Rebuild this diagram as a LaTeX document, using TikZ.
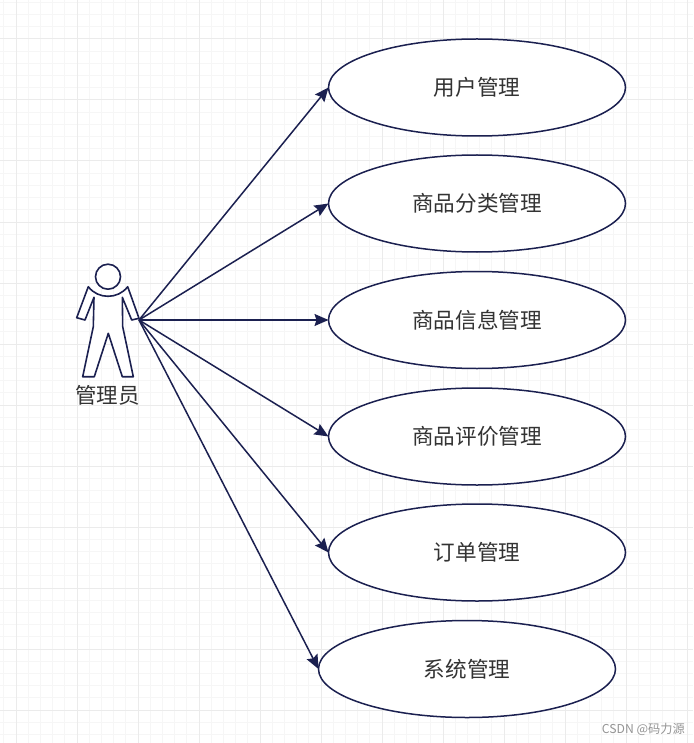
\documentclass[tikz,border=0pt]{standalone}
\usepackage{fontspec}
\setmainfont{Noto Sans CJK SC}
\usetikzlibrary{arrows.meta,shapes.geometric}
\definecolor{navy}{HTML}{1B2050}
\definecolor{txt}{HTML}{333333}
\definecolor{gridmaj}{HTML}{EBEBEB}
\definecolor{gridmin}{HTML}{F6F6F6}
\tikzset{
  usecase/.style={draw=navy,line width=1.5pt,fill=white,ellipse,minimum width=297pt,minimum height=97pt,inner sep=0pt,outer sep=0pt,text=txt,font=\fontsize{21.6}{26}\selectfont},
  link/.style={draw=navy,line width=1.5pt,-{Stealth[length=14pt,width=12pt,inset=2pt]}},
  actorline/.style={draw=navy,line width=1.6pt,line join=round,fill=white},
  caption/.style={text=txt,font=\fontsize{21.5}{26}\selectfont,inner sep=0pt},
  mark text/.style={text=black!42,font=\fontsize{12.2}{15}\selectfont,inner sep=0pt,anchor=east},
}
\begin{document}
\begin{tikzpicture}[x=1pt,y=-1pt]
\useasboundingbox (0,0) rectangle (693,743);
\fill[white] (0,0) rectangle (693,743);
% grid
\foreach \i in {0,...,56} \draw[gridmin,line width=1pt] (3.8+12.2*\i,0) -- (3.8+12.2*\i,743);
\foreach \i in {0,...,60} \draw[gridmin,line width=1pt] (0,2.4+12.2*\i) -- (693,2.4+12.2*\i);
\foreach \i in {0,...,11} \draw[gridmaj,line width=1pt] (16+61*\i,0) -- (16+61*\i,743);
\foreach \i in {0,...,11} \draw[gridmaj,line width=1pt] (0,39+61*\i) -- (693,39+61*\i);
% use cases
\node[usecase] (u1) at (477,87.5) {用户管理};
\node[usecase] (u2) at (477,203.5) {商品分类管理};
\node[usecase] (u3) at (477,320) {商品信息管理};
\node[usecase] (u4) at (477,436.5) {商品评价管理};
\node[usecase] (u5) at (477,552.5) {订单管理};
\node[usecase] (u6) at (467,669) {系统管理};
% actor
\draw[actorline] (108,276.7) circle (12.5);
\draw[actorline] (88.3,286.7) .. controls (98,299.5) and (118,299.5) .. (127.7,286.7)
  -- (139,318.3) -- (131.7,320) -- (122.3,297.3) -- (122.7,326.7) -- (133.3,376.7)
  -- (122.3,376.7) -- (108.3,333.3) -- (94.3,376.7) -- (82.7,376.7) -- (93.3,326.7)
  -- (94,297.3) -- (85,320) -- (76.7,317.7) -- cycle;
\node[caption] (who) at (107.5,395) {管理员};
\coordinate (hand) at (139,320);
% connectors
\foreach \t in {u1,u2,u3,u4,u5,u6} \draw[link] (hand) -- (\t.west);
\node[mark text] (wm) at (685,729) {CSDN @码力源};
\end{tikzpicture}
\end{document}
